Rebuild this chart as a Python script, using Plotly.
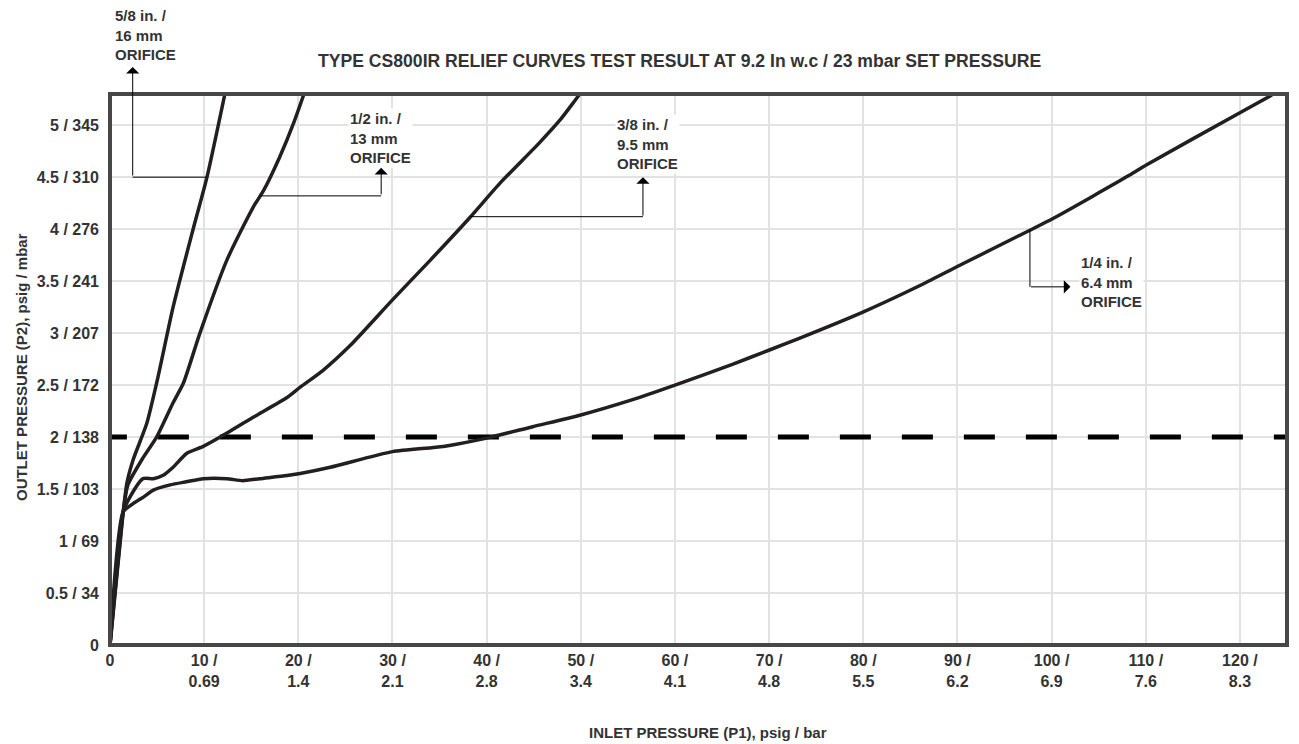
import plotly.graph_objects as go

# ---- data ----
x_58 = [0, 1.4, 1.8, 2.45, 3.9, 5.1, 6.7, 8.8, 10.3, 12.2]
y_58 = [0, 1.28, 1.56, 1.78, 2.13, 2.58, 3.25, 3.99, 4.5, 5.3]

x_12 = [0, 1.4, 1.9, 3.5, 4.95, 6.7, 7.8, 9.55, 12.4, 15.2, 16.3, 18.0, 19.5, 20.6]
y_12 = [0, 1.28, 1.54, 1.8, 2.0, 2.33, 2.52, 3.0, 3.7, 4.21, 4.37, 4.69, 5.02, 5.3]

x_38 = [0, 1.4, 2.1, 3.5, 4.6, 5.6, 6.7, 8.1, 9.9, 11.7, 15.2, 18.8, 20.2, 22.6,
        25.5, 30.0, 34.0, 38.2, 41.4, 45.6, 47.8, 49.4, 49.9]
y_38 = [0, 1.28, 1.42, 1.6, 1.6, 1.63, 1.71, 1.84, 1.91, 2.0, 2.19, 2.38, 2.48, 2.64,
        2.88, 3.32, 3.70, 4.11, 4.44, 4.83, 5.05, 5.24, 5.3]

x_14 = [0, 1.4, 2.45, 3.5, 4.6, 6.4, 8.1, 9.9, 12.4, 14.1, 15.9, 18.8, 20.2, 23.4,
        30.0, 35.4, 40.0, 44.9, 49.9, 55.5, 60.0, 66.1, 70.1, 73.2, 79.9, 86.3,
        90.2, 97.7, 100.1, 108.3, 110.1, 120.0, 123.4]
y_14 = [0, 1.28, 1.36, 1.42, 1.49, 1.54, 1.57, 1.6, 1.6, 1.58, 1.6, 1.63, 1.65, 1.71,
        1.86, 1.91, 1.99, 2.10, 2.21, 2.36, 2.50, 2.70, 2.84, 2.95, 3.20, 3.47,
        3.65, 3.99, 4.10, 4.52, 4.62, 5.12, 5.29]

set_x = [-1.5, 125]
set_y = [2, 2]

x_tickvals = [0, 10, 20, 30, 40, 50, 60, 70, 80, 90, 100, 110, 120]
x_ticktext = ["0", "10 /<br>0.69", "20 /<br>1.4", "30 /<br>2.1", "40 /<br>2.8",
              "50 /<br>3.4", "60 /<br>4.1", "70 /<br>4.8", "80 /<br>5.5",
              "90 /<br>6.2", "100 /<br>6.9", "110 /<br>7.6", "120 /<br>8.3"]
y_tickvals = [0, 0.5, 1, 1.5, 2, 2.5, 3, 3.5, 4, 4.5, 5]
y_ticktext = ["0", "0.5 / 34", "1 / 69", "1.5 / 103", "2 / 138", "2.5 / 172",
              "3 / 207", "3.5 / 241", "4 / 276", "4.5 / 310", "5 / 345"]

TXT = "#333333"
FONT = "Liberation Sans, Arial, sans-serif"
CURVE = "#231f20"

fig = go.Figure()
fig.add_trace(go.Scatter(x=set_x, y=set_y, mode="lines",
                         line=dict(color="black", width=5, dash="31px,31px"),
                         hoverinfo="skip"))
for xs, ys in [(x_58, y_58), (x_12, y_12), (x_38, y_38), (x_14, y_14)]:
    fig.add_trace(go.Scatter(x=xs, y=ys, mode="lines",
                             line=dict(color=CURVE, width=3.5, shape="spline", smoothing=0.6)))

# connector segments
seg = dict(type="line", line=dict(color="black", width=1), layer="above")
shapes = [
    dict(seg, xref="x", yref="y", x0=2.41, x1=10.3, y0=4.50, y1=4.50),
    dict(seg, xref="x", yref="y", x0=16.0, x1=28.8, y0=4.32, y1=4.32),
    dict(seg, xref="x", yref="y", x0=38.3, x1=56.6, y0=4.12, y1=4.12),
    dict(seg, xref="x", yref="y", x0=97.7, x1=97.7, y0=3.99, y1=3.445),
    dict(type="rect", xref="paper", yref="paper", x0=0, x1=1, y0=0, y1=1,
         line=dict(color="#474747", width=4), layer="above"),
]

lab = dict(showarrow=False, align="left", xanchor="left", yanchor="middle",
           font=dict(family=FONT, size=15, color=TXT, weight="bold"), bgcolor="white")
arr = dict(showarrow=True, text="", arrowhead=1, arrowsize=2.2, arrowwidth=1,
           arrowcolor="black", axref="pixel", ayref="pixel", standoff=0, startstandoff=0)
annotations = [
    dict(lab, text="5/8 in. /<br>16 mm<br>ORIFICE", xref="paper", yref="paper",
         x=0.0025, y=1.107),
    dict(lab, text="1/2 in. /<br>13 mm<br>ORIFICE", xref="x", yref="y", x=25.3, y=4.88),
    dict(lab, text="3/8 in. /<br>9.5 mm<br>ORIFICE", xref="x", yref="y", x=53.6, y=4.82),
    dict(lab, text="1/4 in. /<br>6.4 mm<br>ORIFICE", xref="x", yref="y", x=102.9, y=3.49),
    dict(arr, xref="x", yref="paper", x=2.41, y=1.049, ax=0, ay=110),
    dict(arr, xref="x", yref="y", x=28.8, y=4.59, ax=0, ay=28),
    dict(arr, xref="x", yref="y", x=56.6, y=4.50, ax=0, ay=40),
    dict(arr, xref="x", yref="y", x=102.0, y=3.445, ax=-41, ay=0),
    dict(text="TYPE CS800IR RELIEF CURVES TEST RESULT AT 9.2 In w.c / 23 mbar SET PRESSURE",
         xref="paper", yref="paper", x=0.484, y=1.06, showarrow=False,
         xanchor="center", yanchor="middle",
         font=dict(family=FONT, size=17.6, color=TXT, weight="bold")),
    dict(text="INLET PRESSURE (P1), psig / bar", xref="paper", yref="paper",
         x=0.508, y=-0.158, showarrow=False, xanchor="center", yanchor="middle",
         font=dict(family=FONT, size=15, color=TXT, weight="bold")),
    dict(text="OUTLET PRESSURE (P2), psig / mbar", xref="paper", yref="paper",
         x=-0.0756, y=0.5045, showarrow=False, xanchor="center", yanchor="middle",
         textangle=-90, font=dict(family=FONT, size=15, color=TXT, weight="bold")),
]

tickfont = dict(family=FONT, size=16, color=TXT, weight="bold")
fig.update_layout(
    width=1299, height=744,
    margin=dict(l=110, r=12, t=94, b=99),
    paper_bgcolor="white", plot_bgcolor="white",
    showlegend=False,
    shapes=shapes, annotations=annotations,
    xaxis=dict(range=[0, 125], tickmode="array", tickvals=x_tickvals, ticktext=x_ticktext,
               showgrid=True, gridcolor="#e2e2e2", gridwidth=1.5, zeroline=False,
               showline=False, ticks="", tickfont=tickfont, ticklabelstandoff=4),
    yaxis=dict(range=[0, 5.3], tickmode="array", tickvals=y_tickvals, ticktext=y_ticktext,
               showgrid=True, gridcolor="#e2e2e2", gridwidth=1.5, zeroline=False,
               showline=False, ticks="", tickfont=tickfont, ticklabelstandoff=10),
)

fig.write_html("out.html", config={"displayModeBar": False},
               post_script="document.body.style.margin='0';document.body.style.padding='0';")
